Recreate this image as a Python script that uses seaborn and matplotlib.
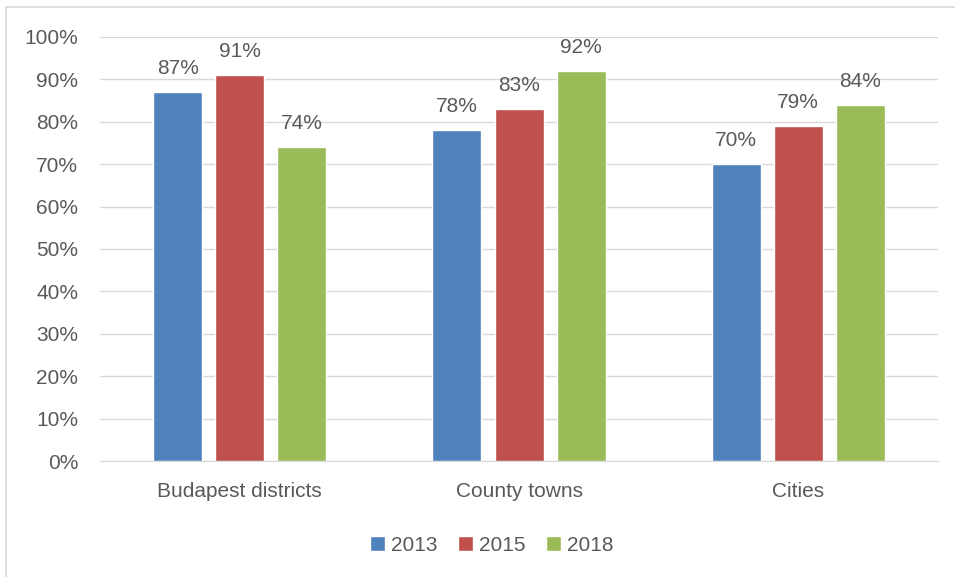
import matplotlib
matplotlib.use("Agg")
import matplotlib.pyplot as plt
import seaborn as sns
import pandas as pd
from matplotlib.patches import Rectangle, Patch

# --- 데이터 ---
categories = ["Budapest districts", "County towns", "Cities"]
years = ["2013", "2015", "2018"]
values_2013 = [87, 78, 70]
values_2015 = [91, 83, 79]
values_2018 = [74, 92, 84]
colors = ["#4F81BD", "#C0504D", "#9BBB59"]
text_color = "#595959"

df = pd.DataFrame({
    "category": categories * 3,
    "year": [years[0]] * 3 + [years[1]] * 3 + [years[2]] * 3,
    "value": values_2013 + values_2015 + values_2018,
})

sns.set_style("white")
plt.rcParams["font.family"] = ["Liberation Sans", "DejaVu Sans"]

fig = plt.figure(figsize=(9.55, 5.77), dpi=100)
ax = fig.add_axes([0.105, 0.201, 0.877, 0.735])

sns.barplot(data=df, x="category", y="value", hue="year", palette=colors,
            order=categories, hue_order=years, width=0.667, gap=0.21,
            saturation=1, legend=False, ax=ax)

for cont in ax.containers:
    ax.bar_label(cont, labels=[f"{v:.0f}%" for v in cont.datavalues],
                 padding=10, fontsize=15, color=text_color)

ax.set_ylim(0, 100)
ax.set_yticks(range(0, 101, 10))
ax.set_yticklabels([f"{t}%" for t in range(0, 101, 10)])
ax.set_xlim(-0.5, 2.5)
ax.yaxis.grid(True, color="#D9D9D9", linewidth=1)
ax.set_axisbelow(True)
for s in ["top", "right", "left"]:
    ax.spines[s].set_visible(False)
ax.spines["bottom"].set_color("#D9D9D9")
ax.tick_params(axis="both", length=0, labelsize=15, colors=text_color)
ax.tick_params(axis="y", pad=16)
ax.tick_params(axis="x", pad=15)
ax.set_xlabel("")
ax.set_ylabel("")

# 범례
handles = [Patch(facecolor=c, label=y) for c, y in zip(colors, years)]
fig.legend(handles=handles, loc="center", bbox_to_anchor=(0.515, 0.055), ncol=3,
           frameon=False, fontsize=15, handlelength=0.7, handleheight=0.7,
           handletextpad=0.3, columnspacing=1.0, labelcolor=text_color)

# 차트 테두리
fig.patches.append(Rectangle((6 / 955, -0.05), 1.0, 1.05 - 7 / 577,
                             transform=fig.transFigure, fill=False,
                             edgecolor="#D9D9D9", linewidth=1.2))

fig.savefig("out.png", dpi=100)
